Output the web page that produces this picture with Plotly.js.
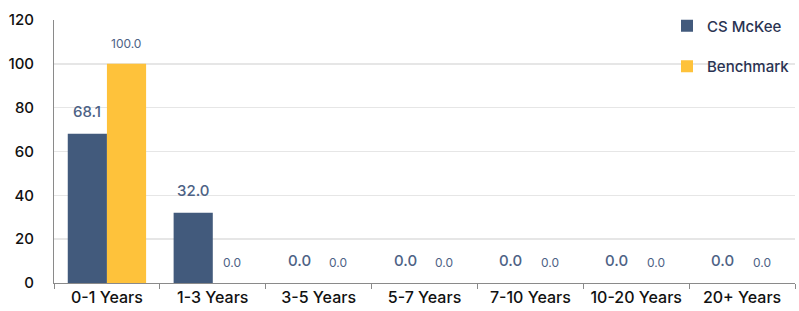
<!DOCTYPE html>
<html>
<head>
<meta charset="utf-8">
<script src="https://cdn.plot.ly/plotly-3.0.1.min.js"></script>
<style>
html,body{margin:0;padding:0;background:#fff;}
#chart{width:799px;height:311px;}
</style>
</head>
<body>
<div id="chart"></div>
<script>
const categories = ["0-1 Years","1-3 Years","3-5 Years","5-7 Years","7-10 Years","10-20 Years","20+ Years"];
const csMcKee = [68.1, 32.0, 0.0, 0.0, 0.0, 0.0, 0.0];
const benchmark = [100.0, 0.0, 0.0, 0.0, 0.0, 0.0, 0.0];
const seriesNames = ["CS McKee", "Benchmark"];

const FONT = "Inter, 'Open Sans', sans-serif";
const navy = "#425a7c";
const gold = "#fec23b";

const traces = [
  {type:"bar", name:seriesNames[0], x:categories, y:csMcKee, marker:{color:navy},
   legendgroup:"a", hoverinfo:"none"},
  {type:"bar", name:seriesNames[1], x:categories, y:benchmark, marker:{color:gold},
   legendgroup:"b", hoverinfo:"none"}
];

const annotations = [];
categories.forEach((c,i)=>{
  annotations.push({x:c, y:csMcKee[i], xref:"x", yref:"y", text:csMcKee[i].toFixed(1),
    showarrow:false, xshift:-19.5, yanchor:"bottom", yshift:11,
    font:{family:FONT, size:15, color:"#4d6285", weight:500}});
  annotations.push({x:c, y:benchmark[i], xref:"x", yref:"y", text:benchmark[i].toFixed(1),
    showarrow:false, xshift:19.5, yanchor:"bottom", yshift:11,
    font:{family:FONT, size:12, color:"#4d6285"}});
});

const layout = {
  width:799, height:311,
  margin:{l:54, r:4, t:20, b:28},
  paper_bgcolor:"#fff", plot_bgcolor:"#fff",
  barmode:"group", bargap:0.26, bargroupgap:0,
  font:{family:FONT, color:"#111"},
  showlegend:true,
  legend:{x:1.0, xanchor:"right", y:1.04, yanchor:"top", bgcolor:"rgba(0,0,0,0)",
    traceorder:"grouped", tracegroupgap:18, itemwidth:30,
    font:{family:FONT, size:15, color:"#2a3352", weight:500}},
  xaxis:{type:"category", showline:true, linecolor:"#8a8a8a", linewidth:1,
    ticks:"outside", ticklen:5, tickcolor:"#8a8a8a", tickson:"boundaries",
    showgrid:false, tickfont:{family:FONT, size:16, color:"#111", weight:500}},
  yaxis:{range:[0,120], dtick:20, showline:true, linecolor:"#8a8a8a", linewidth:1,
    showgrid:true, gridcolor:"#e6e6e6", gridwidth:1.5, zeroline:false,
    ticks:"", ticklabelstandoff:16,
    tickfont:{family:FONT, size:15, color:"#111", weight:500}},
  annotations:annotations
};

Plotly.newPlot("chart", traces, layout, {displayModeBar:false, staticPlot:true});
</script>
</body>
</html>
